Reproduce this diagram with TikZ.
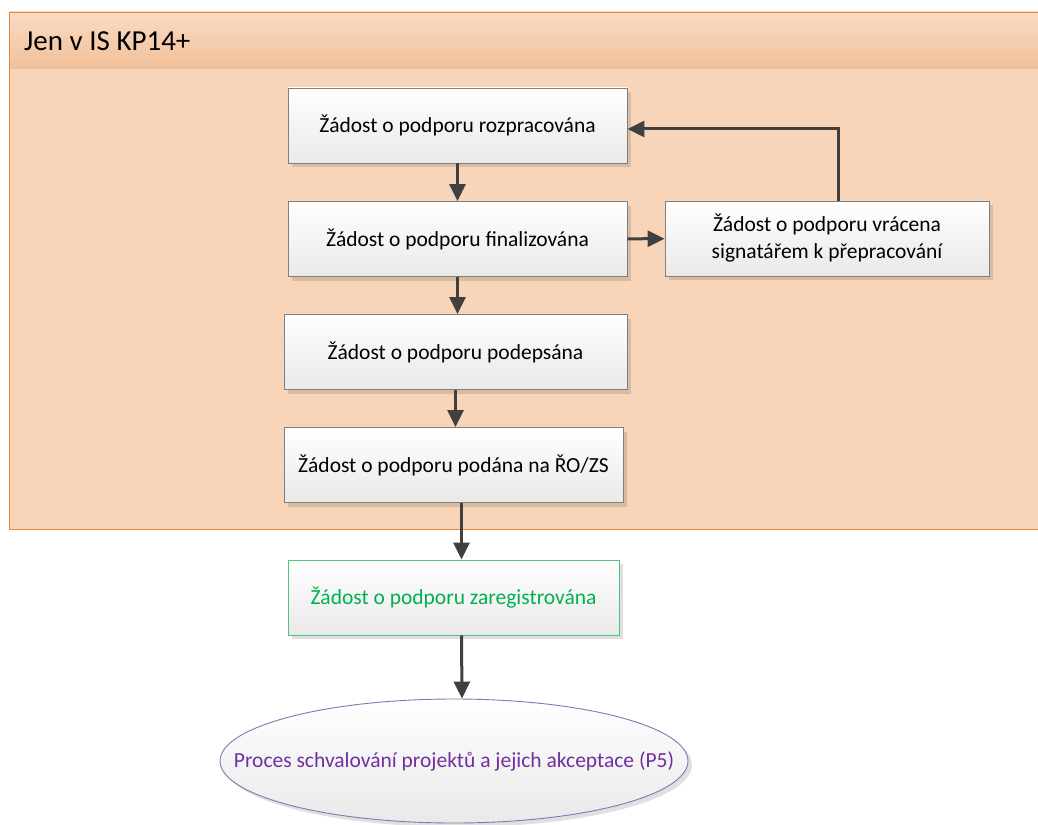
\documentclass[tikz,border=0pt]{standalone}
\usepackage{fontspec}
\setmainfont{Carlito}
\usepackage{tikz}
\usetikzlibrary{positioning,shapes.geometric,shadows,arrows.meta}

\definecolor{laneborder}{HTML}{E5883C}
\definecolor{lanefill}{HTML}{F8D5B8}
\definecolor{headtop}{HTML}{F9DCC6}
\definecolor{headbottom}{HTML}{F2BF97}
\definecolor{boxline}{HTML}{7F7F7F}
\definecolor{boxbottom}{HTML}{E9E9E9}
\definecolor{arrowgray}{HTML}{404040}
\definecolor{regreen}{HTML}{00B050}
\definecolor{regborder}{HTML}{4CC77A}
\definecolor{procpurple}{HTML}{7030A0}
\definecolor{procborder}{HTML}{8C72B0}

\tikzset{
  stav/.style={rectangle, draw=boxline, line width=0.9pt, top color=white, bottom color=boxbottom,
    minimum width=339pt, minimum height=75pt, inner sep=0pt, align=center,
    font=\fontsize{21.5}{27}\selectfont,
    drop shadow={shadow xshift=4pt, shadow yshift=-4pt, fill=black, opacity=0.12}},
  sipka/.style={-{Triangle[length=17pt,width=16pt]}, line width=3pt, draw=arrowgray}
}

\begin{document}
\begin{tikzpicture}[x=1pt, y=-1pt]
    \useasboundingbox (0,0) rectangle (1038,824);

    % swimlane
    \fill[lanefill] (9,12) rectangle (1045,529);
    \shade[top color=headtop, bottom color=headbottom] (9,12) rectangle (1045,69);
    \draw[laneborder, line width=0.9pt] (1045,12) -- (9,12) -- (9,529) -- (1045,529);
    \node (lane) [anchor=west, inner sep=0pt, font=\fontsize{29}{34}\selectfont] at (24,41) {Jen v IS KP14+};

    % states
    \node (rozp) [stav] at (457.5,125.5) {Žádost o podporu rozpracována};
    \node (final) [stav] at (457.5,239) {Žádost o podporu finalizována};
    \node (vracena) [stav, minimum width=324pt] at (827,238.5) {Žádost o podporu vrácena\\signatářem k přepracování};
    \node (podepsana) [stav, minimum width=343pt] at (455.5,352) {Žádost o podporu podepsána};
    \node (podana) [stav] at (453.5,465) {Žádost o podporu podána na ŘO/ZS};
    \node (zareg) [stav, draw=regborder, text=regreen, minimum width=331pt] at (453.5,597.5) {Žádost o podporu zaregistrována};
    \node (proces) [ellipse, draw=procborder, line width=0.9pt, top color=white, bottom color=boxbottom,
      minimum width=468pt, minimum height=124pt, inner xsep=-70pt, inner ysep=0pt, text=procpurple,
      font=\fontsize{21.5}{27}\selectfont,
      drop shadow={shadow xshift=4pt, shadow yshift=-4pt, fill=black, opacity=0.12}] at (454,761)
      {Proces schvalování projektů a jejich akceptace (P5)};

    \draw[sipka] (rozp) -- (final);
    \draw[sipka] (final) -- (final.south |- podepsana.north);
    \draw[sipka] (podepsana) -- (podepsana.south |- podana.north);
    \draw[sipka] ([xshift=8pt]podana.south) -- ([xshift=8pt]podana.south |- zareg.north);
    \draw[sipka] ([xshift=8pt]zareg.south) -- ([xshift=8pt]proces.north);
    \draw[sipka] (final) -- (vracena);
    \draw[sipka] ([xshift=11pt]vracena.north) |- ([yshift=-3.5pt]rozp.east);
\end{tikzpicture}
\end{document}
